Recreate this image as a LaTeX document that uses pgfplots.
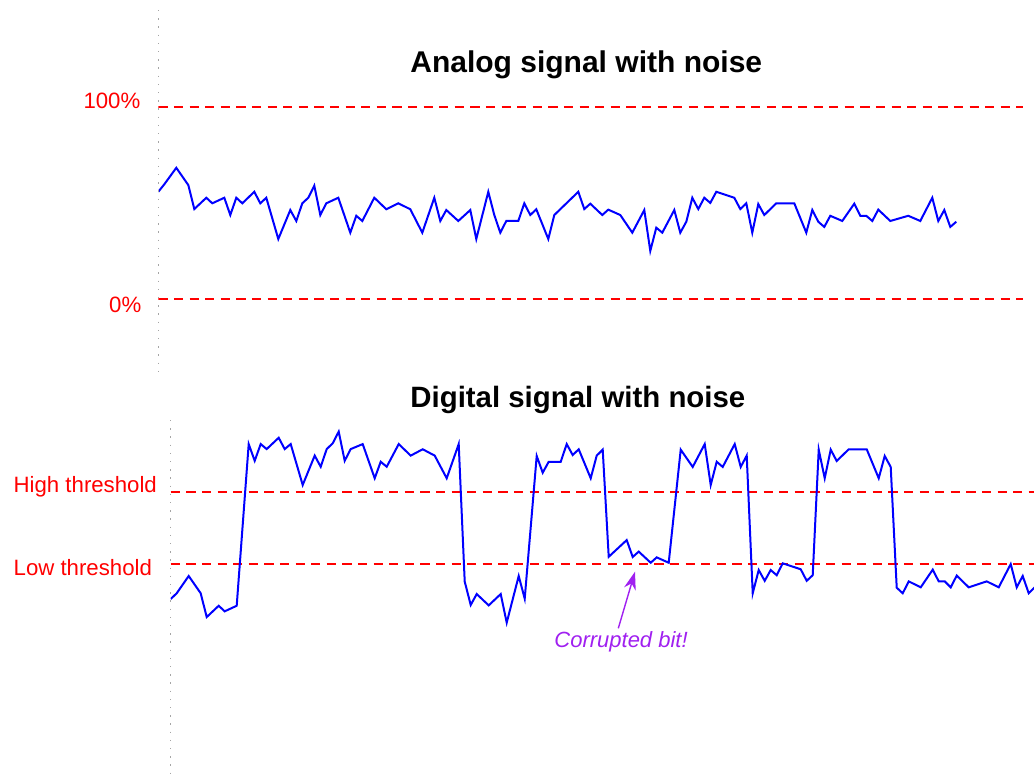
\documentclass[border=0pt]{standalone}
\usepackage{pgfplots}
\pgfplotsset{compat=1.18}
\usepackage{fontspec}
\setmainfont{Liberation Sans}
\usetikzlibrary{arrows.meta}
\definecolor{corrpurple}{RGB}{160,32,240}
\definecolor{dotgray}{RGB}{165,165,165}
\begin{document}
\begin{tikzpicture}
\path[use as bounding box] (0pt,0pt) rectangle (517pt,-389pt);
% ---------- Analog panel ----------
\begin{axis}[
  at={(79.15pt,-185.85pt)}, anchor=south west,
  scale only axis, width=432.5pt, height=180.85pt,
  xmin=0, xmax=144.17, ymin=-37.71, ymax=150.68,
  axis lines=none,
]
\addplot[red, line width=1pt, dash pattern=on 4.65pt off 3.15pt] coordinates {(0,100) (144.17,100)};
\addplot[red, line width=1pt, dash pattern=on 4.65pt off 3.15pt] coordinates {(0,0) (144.17,0)};
\addplot[blue, line width=1pt, line join=miter] coordinates {
(0,56.0)(1,59.9)(3,68.5)(5,59.5)(6,47.0)(8,52.9)(9,50.0)(11,52.9)(12,43.9)(13,52.9)(14,50.0)(16,56.0)(17,50.0)(18,52.9)(20,31.4)(22,46.5)(23,40.8)(24,50.0)(25,52.9)(26,59.2)(27,43.9)(28,50.0)(30,52.9)(32,34.7)(33,43.5)(34,40.8)(36,52.9)(38,46.9)(40,50.0)(42,46.9)(44,34.7)(46,52.9)(47,40.8)(48,46.5)(50,40.8)(52,46.5)(53,31.4)(55,56.0)(56,43.9)(57,34.7)(58,40.8)(60,40.8)(61,50.0)(62,43.9)(63,46.9)(65,31.4)(66,43.9)(70,56.0)(71,47.0)(72,49.8)(74,43.9)(75,46.7)(77,43.9)(79,34.7)(81,46.5)(82,25.2)(83,37.3)(84,34.7)(86,46.5)(87,34.7)(88,40.4)(89,52.9)(90,47.0)(91,52.9)(92,50.2)(93,56.0)(96,52.9)(97,47.0)(98,50.0)(99,34.7)(100,49.6)(101,43.9)(103,50.0)(106,50.0)(108,34.7)(109,46.5)(110,40.4)(111,37.7)(112,43.5)(114,40.8)(116,49.8)(117,43.5)(118,43.5)(119,40.8)(120,46.7)(122,40.8)(125,43.5)(127,40.8)(129,52.9)(130,40.8)(131,46.5)(132,37.7)(133,40.4)
};
\end{axis}
% ---------- Digital panel ----------
\begin{axis}[
  at={(85.35pt,-389pt)}, anchor=south west,
  scale only axis, width=431.65pt, height=179pt,
  xmin=0, xmax=143.88, ymin=-81.61, ymax=104.84,
  axis lines=none,
]
\addplot[red, line width=1pt, dash pattern=on 4.65pt off 3.15pt] coordinates {(0,67.5) (143.88,67.5)};
\addplot[red, line width=1pt, dash pattern=on 4.65pt off 3.15pt] coordinates {(0,30) (143.88,30)};
\addplot[blue, line width=1pt, line join=miter] coordinates {
(0,11.6)(1,14.6)(3,23.6)(5,14.6)(6,2.2)(8,8.1)(9,5.2)(11,8.1)(13,92.3)(14,83.6)(15,92.3)(16,89.7)(18,95.6)(19,89.7)(20,92.3)(22,71.0)(24,86.3)(25,80.5)(26,89.7)(27,92.7)(28,98.8)(29,83.6)(30,89.7)(32,92.3)(34,74.5)(35,83.1)(36,80.5)(38,92.3)(40,86.3)(42,89.6)(44,86.3)(46,74.5)(48,92.3)(49,20.7)(50,8.5)(51,14.2)(53,8.3)(55,14.2)(56,-0.7)(58,23.6)(59,11.8)(61,86.1)(62,77.4)(63,83.1)(65,83.1)(66,92.3)(67,86.6)(68,89.6)(70,74.5)(71,86.3)(72,89.4)(73,33.6)(76,42.3)(77,33.5)(78,36.3)(80,30.5)(81,33.3)(83,30.5)(85,89.4)(87,80.4)(89,92.3)(90,71.0)(91,83.1)(92,80.4)(94,92.3)(95,80.4)(96,86.3)(97,14.6)(98,26.7)(99,21.1)(100,26.7)(101,24.0)(102,30.2)(105,27.1)(106,21.1)(107,24.0)(108,89.4)(109,74.5)(110,89.4)(111,83.5)(113,89.6)(116,89.6)(118,74.5)(119,86.1)(120,80.4)(121,17.5)(122,14.6)(123,20.8)(125,17.7)(127,26.9)(128,20.8)(129,20.8)(130,17.7)(131,23.8)(133,17.7)(136,20.8)(138,17.7)(140,29.8)(141,17.7)(142,23.6)(143,14.6)(144,17.7)
};
\end{axis}
% dotted left guides
\draw[dotgray, line width=0.6pt, dash pattern=on 0.7pt off 3.4pt] (79.15pt,-5pt) -- (79.15pt,-185.85pt);
\draw[dotgray, line width=0.6pt, dash pattern=on 0.7pt off 3.4pt] (85.35pt,-210pt) -- (85.35pt,-389pt);
% titles
\node[anchor=base west, inner sep=0pt, font=\fontsize{15}{17}\selectfont\bfseries] at (205pt,-36.15pt) {Analog signal with noise};
\node[anchor=base west, inner sep=0pt, font=\fontsize{14.7}{17}\selectfont\bfseries] at (205pt,-203.65pt) {Digital signal with noise};
% labels
\node[anchor=base east, inner sep=0pt, red, font=\fontsize{11.1}{13}\selectfont] at (70.35pt,-54.15pt) {100\%};
\node[anchor=base east, inner sep=0pt, red, font=\fontsize{11.1}{13}\selectfont] at (70.85pt,-156.35pt) {0\%};
\node[anchor=base west, inner sep=0pt, red, font=\fontsize{11.1}{13}\selectfont] at (6.65pt,-246.15pt) {High threshold};
\node[anchor=base west, inner sep=0pt, red, font=\fontsize{11.1}{13}\selectfont] at (6.65pt,-287.85pt) {Low threshold};
% annotation
\draw[corrpurple, line width=0.7pt, -{Stealth[length=9pt,width=6pt]}] (309.15pt,-314.15pt) -- (317.5pt,-285.85pt);
\node[anchor=base west, inner sep=0pt, corrpurple, font=\fontsize{11}{13}\selectfont\itshape] at (277pt,-323.65pt) {Corrupted bit!};
\end{tikzpicture}
\end{document}
